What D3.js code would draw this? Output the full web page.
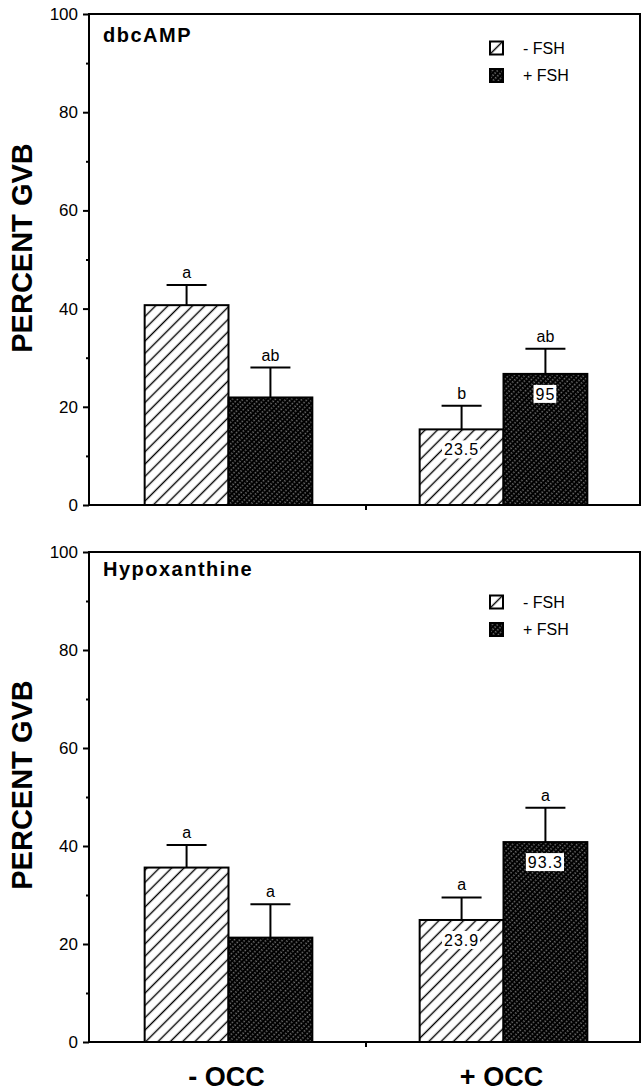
<!DOCTYPE html>
<html>
<head>
<meta charset="utf-8">
<script src="https://d3js.org/d3.v7.min.js"></script>
<style>
  body { margin: 0; background: #fff; }
  svg text { font-family: "Liberation Sans", Arial, Helvetica, sans-serif; fill: #000; }
</style>
</head>
<body>
<div id="chart"></div>
<script>
// groups on the x axis and the two series in each group
var categories = ["- OCC", "+ OCC"];
var series = ["- FSH", "+ FSH"];
var yMajorTicks = [0, 20, 40, 60, 80, 100];
var yMinorTicks = [10, 30, 50, 70, 90];

// dbcAMP panel (percent GVB)
var dbcMinusFSH = [40.7, 15.4];
var dbcPlusFSH = [21.9, 26.7];
var dbcErrMinusFSH = [4.1, 4.8];
var dbcErrPlusFSH = [6.1, 5.1];
var dbcLetterMinusFSH = ["a", "b"];
var dbcLetterPlusFSH = ["ab", "ab"];
var dbcBoxMinusFSH = [null, "23.5"];
var dbcBoxPlusFSH = [null, "95"];

// Hypoxanthine panel
var hxMinusFSH = [35.6, 24.9];
var hxPlusFSH = [21.3, 40.8];
var hxErrMinusFSH = [4.6, 4.6];
var hxErrPlusFSH = [6.8, 7.0];
var hxLetterMinusFSH = ["a", "a"];
var hxLetterPlusFSH = ["a", "a"];
var hxBoxMinusFSH = [null, "23.9"];
var hxBoxPlusFSH = [null, "93.3"];

var W = 642, H = 1092;
var svg = d3.select("#chart").append("svg")
    .attr("width", W)
    .attr("height", H);

var defs = svg.append("defs");

// white with black diagonal lines
var hs = 8.7;
var pLight = defs.append("pattern")
    .attr("id", "hatchLight")
    .attr("patternUnits", "userSpaceOnUse")
    .attr("width", hs).attr("height", hs)
    .attr("patternTransform", "rotate(45)");
pLight.append("rect").attr("width", hs).attr("height", hs).attr("fill", "#fff");
pLight.append("line")
    .attr("x1", hs / 2).attr("y1", -1).attr("x2", hs / 2).attr("y2", hs + 1)
    .attr("stroke", "#000").attr("stroke-width", 1.4);

// black with fine dotted white diagonals
var ds = 3.8;
var pDark = defs.append("pattern")
    .attr("id", "hatchDark")
    .attr("patternUnits", "userSpaceOnUse")
    .attr("width", ds).attr("height", 3)
    .attr("patternTransform", "rotate(45)");
pDark.append("rect").attr("width", ds).attr("height", 3).attr("fill", "#000");
pDark.append("line")
    .attr("x1", ds / 2).attr("y1", 0).attr("x2", ds / 2).attr("y2", 3)
    .attr("stroke", "#fff").attr("stroke-width", 0.8)
    .attr("stroke-dasharray", "1.3,1.7");

var fills = {"- FSH": "url(#hatchLight)", "+ FSH": "url(#hatchDark)"};

var panels = [
  {title: "dbcAMP", top: 14, bottom: 505, titleY: 42, legendY: 48, labelY: 248,
   values: [dbcMinusFSH, dbcPlusFSH], errs: [dbcErrMinusFSH, dbcErrPlusFSH],
   letters: [dbcLetterMinusFSH, dbcLetterPlusFSH], boxes: [dbcBoxMinusFSH, dbcBoxPlusFSH]},
  {title: "Hypoxanthine", top: 552, bottom: 1042, titleY: 576, legendY: 602, labelY: 785,
   values: [hxMinusFSH, hxPlusFSH], errs: [hxErrMinusFSH, hxErrPlusFSH],
   letters: [hxLetterMinusFSH, hxLetterPlusFSH], boxes: [hxBoxMinusFSH, hxBoxPlusFSH]}
];

var axisX = 89, rightX = 640;

var x0 = d3.scaleBand().domain(categories).range([91, 641]);
var x1 = d3.scaleBand().domain(series).range([0, x0.bandwidth()]).paddingOuter(0.64);

panels.forEach(function(p, pi) {
  var y = d3.scaleLinear().domain([0, 100]).range([p.bottom, p.top]);
  var g = svg.append("g");

  // flatten to one row per bar
  var bars = [];
  categories.forEach(function(c, i) {
    series.forEach(function(s, j) {
      bars.push({cat: c, ser: s, value: p.values[j][i], err: p.errs[j][i],
                 letter: p.letters[j][i], box: p.boxes[j][i]});
    });
  });

  // bars
  g.selectAll("rect.bar")
    .data(bars)
    .enter().append("rect")
      .attr("class", "bar")
      .attr("x", function(d) { return x0(d.cat) + x1(d.ser); })
      .attr("y", function(d) { return y(d.value); })
      .attr("width", x1.bandwidth())
      .attr("height", function(d) { return y(0) - y(d.value); })
      .attr("fill", function(d) { return fills[d.ser]; })
      .attr("stroke", "#000")
      .attr("stroke-width", 2);

  // error bars
  var cx = function(d) { return x0(d.cat) + x1(d.ser) + x1.bandwidth() / 2; };
  g.selectAll("line.err")
    .data(bars)
    .enter().append("line")
      .attr("class", "err")
      .attr("x1", cx).attr("x2", cx)
      .attr("y1", function(d) { return y(d.value); })
      .attr("y2", function(d) { return y(d.value + d.err); })
      .attr("stroke", "#000").attr("stroke-width", 2);
  g.selectAll("line.cap")
    .data(bars)
    .enter().append("line")
      .attr("class", "cap")
      .attr("x1", function(d) { return cx(d) - 20; })
      .attr("x2", function(d) { return cx(d) + 20; })
      .attr("y1", function(d) { return y(d.value + d.err); })
      .attr("y2", function(d) { return y(d.value + d.err); })
      .attr("stroke", "#000").attr("stroke-width", 2);

  // significance letters
  g.selectAll("text.letter")
    .data(bars)
    .enter().append("text")
      .attr("class", "letter")
      .attr("x", cx)
      .attr("y", function(d) { return y(d.value + d.err) - 7; })
      .attr("text-anchor", "middle")
      .style("font-size", "16px")
      .text(function(d) { return d.letter; });

  // boxed numbers inside the bars
  var boxed = bars.filter(function(d) { return d.box; });
  var bg = g.selectAll("g.box")
    .data(boxed)
    .enter().append("g")
      .attr("class", "box")
      .attr("transform", function(d) { return "translate(" + cx(d) + "," + (y(d.value) + 20) + ")"; });
  var bt = bg.append("text")
      .attr("text-anchor", "middle")
      .attr("dy", "0.36em")
      .style("font-size", "16px")
      .style("letter-spacing", "1px")
      .text(function(d) { return d.box; });
  bt.each(function() {
    var bb = this.getBBox();
    d3.select(this.parentNode).insert("rect", "text")
      .attr("x", bb.x - 2).attr("y", -9)
      .attr("width", bb.width + 3).attr("height", 18)
      .attr("fill", "#fff");
  });

  // y axis, major and minor ticks
  var yAxis = d3.axisLeft(y).tickValues(yMajorTicks).tickSize(6).tickSizeOuter(0).tickPadding(5);
  var ga = g.append("g").attr("transform", "translate(" + axisX + ",0)").call(yAxis);
  ga.select(".domain").remove();
  ga.selectAll("line").attr("stroke-width", 2);
  ga.selectAll("text").style("font-size", "17px").style("font-family", "Liberation Sans, Arial, sans-serif");
  var gm = g.append("g").attr("transform", "translate(" + axisX + ",0)")
    .call(d3.axisLeft(y).tickValues(yMinorTicks).tickSize(3).tickSizeOuter(0).tickFormat(""));
  gm.select(".domain").remove();
  gm.selectAll("line").attr("stroke-width", 2);

  // frame
  g.append("path")
    .attr("d", "M" + axisX + "," + y(0) + "V" + y(100) + "H" + rightX + "V" + y(0) + "Z")
    .attr("fill", "none").attr("stroke", "#000").attr("stroke-width", 2);

  // single tick between the two groups
  g.append("line")
    .attr("x1", x0(categories[1])).attr("x2", x0(categories[1]))
    .attr("y1", y(0)).attr("y2", y(0) + 5)
    .attr("stroke", "#000").attr("stroke-width", 2);

  // panel title
  g.append("text")
    .attr("x", 103).attr("y", p.titleY)
    .style("font-size", "20px").style("font-weight", "bold").style("letter-spacing", "1.5px")
    .text(p.title);

  // legend
  var lg = g.selectAll("g.legend")
    .data(series)
    .enter().append("g")
      .attr("class", "legend")
      .attr("transform", function(d, i) { return "translate(490," + (p.legendY + i * 27.5) + ")"; });
  lg.append("rect")
    .attr("x", 0).attr("y", -6.5).attr("width", 13).attr("height", 13)
    .attr("fill", function(d) { return fills[d]; })
    .attr("stroke", "#000").attr("stroke-width", 2);
  lg.append("text")
    .attr("x", 33).attr("dy", "0.36em")
    .style("font-size", "16px")
    .text(function(d) { return d; });

  // y axis title
  g.append("text")
    .attr("transform", "translate(32," + p.labelY + ") rotate(-90)")
    .attr("text-anchor", "middle")
    .style("font-size", "29px").style("font-weight", "bold")
    .text("PERCENT GVB");

  // group labels only under the lower panel
  if (pi === panels.length - 1) {
    g.selectAll("text.cat")
      .data(categories)
      .enter().append("text")
        .attr("class", "cat")
        .attr("x", function(d) { return x0(d) + x0.bandwidth() / 2 - 2; })
        .attr("y", 1086)
        .attr("text-anchor", "middle")
        .style("font-size", "27px").style("font-weight", "bold")
        .text(function(d) { return d; });
  }
});
</script>
</body>
</html>
